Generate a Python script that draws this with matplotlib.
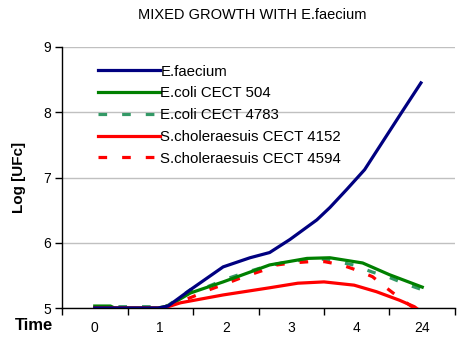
import numpy as np
import matplotlib.pyplot as plt

# category labels on the time axis
time_labels = ["0", "1", "2", "3", "4", "24"]

# curves (x in category units, 0 = "0", 5 = "24")
faecium_x = [0, 0.97, 1.12, 1.46, 1.96, 2.37, 2.67, 2.98, 3.39, 3.59, 3.85, 4.12, 4.70, 4.98]
faecium_y = [5.0, 5.0, 5.03, 5.28, 5.63, 5.77, 5.85, 6.05, 6.35, 6.54, 6.82, 7.12, 8.02, 8.45]

coli504_x = [0, 0.24, 0.3, 0.96, 1.12, 1.46, 1.96, 2.37, 2.67, 3.24, 3.59, 4.09, 4.50, 5.0]
coli504_y = [5.03, 5.03, 5.0, 5.0, 5.03, 5.23, 5.40, 5.55, 5.66, 5.76, 5.77, 5.69, 5.51, 5.32]

coli4783_x = [0, 1.0, 1.12, 1.46, 1.73, 2.02, 2.29, 2.62, 3.0, 3.5, 3.95, 4.24, 4.47, 4.74, 5.0]
coli4783_y = [5.02, 5.02, 5.04, 5.28, 5.33, 5.45, 5.54, 5.64, 5.72, 5.75, 5.66, 5.55, 5.48, 5.37, 5.28]

chol4152_x = [0, 1.0, 1.12, 1.31, 1.96, 2.67, 3.1, 3.5, 3.96, 4.3, 4.65, 4.88, 5.0]
chol4152_y = [5.0, 5.0, 5.02, 5.08, 5.2, 5.31, 5.38, 5.40, 5.35, 5.25, 5.12, 5.02, 4.93]

chol4594_x = [0, 1.0, 1.12, 1.49, 1.75, 2.02, 2.28, 2.55, 2.78, 3.01, 3.28, 3.51, 3.77, 4.0, 4.24, 4.45, 4.7, 4.9, 5.0]
chol4594_y = [5.0, 5.0, 5.03, 5.17, 5.28, 5.38, 5.48, 5.57, 5.66, 5.69, 5.71, 5.71, 5.66, 5.58, 5.48, 5.31, 5.12, 4.98, 4.9]

plt.rcParams['font.family'] = ['Liberation Sans', 'DejaVu Sans']

fig = plt.figure(figsize=(4.74, 3.43), dpi=100)
ax = fig.add_axes([62/474, 1-308/343, (455-62)/474, (308-47)/343])

dash = (2.7, 4.7)
ax.plot(faecium_x, faecium_y, color="#000080", lw=2.3, label="E.faecium", zorder=5)
ax.plot(coli504_x, coli504_y, color="#008000", lw=2.3, label="E.coli CECT 504", zorder=4)
ax.plot(coli4783_x, coli4783_y, color="#339966", lw=2.3, dashes=dash, label="E.coli CECT 4783", zorder=3)
ax.plot(chol4152_x, chol4152_y, color="#FF0000", lw=2.3, label="S.choleraesuis CECT 4152", zorder=4)
ax.plot(chol4594_x, chol4594_y, color="#FF0000", lw=2.3, dashes=dash, label="S.choleraesuis CECT 4594", zorder=3)

ax.set_xlim(-0.5, 5.5)
ax.set_ylim(5, 9)
ax.set_yticks([5, 6, 7, 8, 9])
ax.tick_params(axis="y", labelsize=10, length=5, width=1, pad=3)
ax.yaxis.grid(True, color="#C0C0C0", lw=1)
ax.set_axisbelow(True)

ax.set_xticks(np.arange(-0.5, 6, 1))
ax.set_xticklabels([])
ax.set_xticks(np.arange(len(time_labels)), minor=True)
ax.set_xticklabels(time_labels, minor=True)
ax.tick_params(axis="x", which="major", length=5, width=1)
ax.tick_params(axis="x", which="minor", length=0, labelsize=10, pad=9)

for s in ["top", "right"]:
    ax.spines[s].set_visible(False)
for s in ["left", "bottom"]:
    ax.spines[s].set_color("black")
    ax.spines[s].set_linewidth(1)

ax.set_ylabel("Log [UFc]", fontsize=11, fontweight="bold", labelpad=12)
fig.text(34/474, 1-326/343, "Time", fontsize=12, fontweight="bold", ha="center", va="center")
fig.text(252/474, 1-15/343, "MIXED GROWTH WITH E.faecium", fontsize=10.5, ha="center", va="center")

ax.legend(loc="upper left", bbox_to_anchor=(98/474, 1-64.5/343), bbox_transform=fig.transFigure,
          frameon=False, fontsize=10.8, handlelength=4.1, handletextpad=0.05, labelspacing=0.52,
          borderaxespad=0, borderpad=0)

fig.savefig("out.png", dpi=100)
